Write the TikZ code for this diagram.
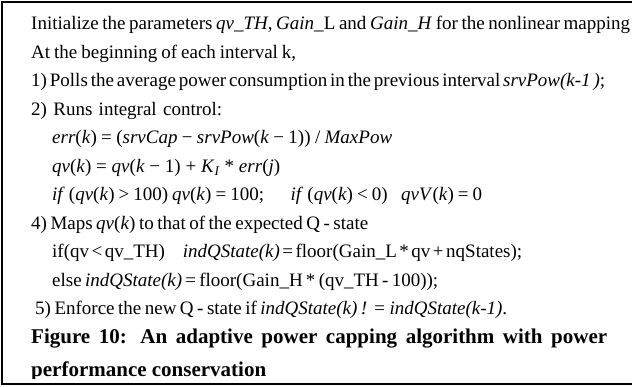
\documentclass[tikz,border=0pt]{standalone}
\usepackage{fontspec}
\setmainfont{Liberation Serif}
\newcommand{\mi}[1]{\textit{#1}}
\newcommand{\fitto}[2]{\makebox[#1][s]{\spaceskip=0.25em plus 2em minus 0.25em\relax #2}}
\tikzset{
  txt/.style={anchor=base west, inner sep=0pt, font=\fontsize{19}{21}\selectfont},
  captxt/.style={anchor=base west, inner sep=0pt, font=\fontsize{21}{23}\selectfont\bfseries},
  frame/.style={line width=2pt, draw=black}
}
\begin{document}
\begin{tikzpicture}[x=1pt,y=-1pt]
\useasboundingbox (0,0) rectangle (632,387);
\draw[frame] (632,2) -- (2,2) -- (2,384) -- (632,384);
\node[txt] (l1) at (31,30) {\fitto{599pt}{Initialize the parameters \mi{qv\_TH}, \mi{Gain\_}L and \mi{Gain\_H} for the nonlinear mapping}};
\node[txt] (l2) at (31,58.5) {\fitto{265pt}{At the beginning of each interval k,}};
\node[txt] (l3) at (31,87) {\fitto{574pt}{1) Polls the average power consumption in the previous interval \mi{srvPow(k-1 )};}};
\node[txt] (l4) at (31,115.5) {\fitto{191pt}{2) Runs integral control:}};
\node[txt] (l5) at (52,144) {\fitto{340pt}{\mi{err}(\mi{k}) = (\mi{srvCap} − \mi{srvPow}(\mi{k} − 1)) / \mi{MaxPow}}};
\node[txt] (l6) at (52,172.5) {\fitto{228pt}{\mi{qv}(\mi{k}) = \mi{qv}(\mi{k} − 1) + \mi{K}\textsubscript{\mi{I}} * \mi{err}(\mi{j})}};
\node[txt] (l7) at (52,201) {\fitto{430pt}{\mi{if} (\mi{qv}(\mi{k}) > 100) \mi{qv}(\mi{k}) = 100;\hspace{1.4em}\mi{if} (\mi{qv}(\mi{k}) < 0)\hspace{0.5em} \mi{qvV}(\mi{k}) = 0}};
\node[txt] (l8) at (31,229.5) {\fitto{337pt}{4) Maps \mi{qv}(\mi{k}) to that of the expected Q - state}};
\node[txt] (l9) at (52,258) {\fitto{470pt}{if(qv < qv\_TH)\hspace{0.8em} \mi{indQState(k)} = floor(Gain\_L * qv + nqStates);}};
\node[txt] (l10) at (52,286.5) {\fitto{386pt}{else \mi{indQState(k)} = floor(Gain\_H * (qv\_TH - 100));}};
\node[txt] (l11) at (35,315) {\fitto{472pt}{5) Enforce the new Q - state if \mi{indQState(k) ! = indQState(k-1)}.}};
\node[captxt] (c1) at (31,344) {\makebox[576pt][s]{Figure 10: An adaptive power capping algorithm with power}};
\begin{scope}
\clip (0,350) rectangle (632,378.5);
\node[captxt] (c2) at (31,376) {performance conservation};
\end{scope}
\end{tikzpicture}
\end{document}
